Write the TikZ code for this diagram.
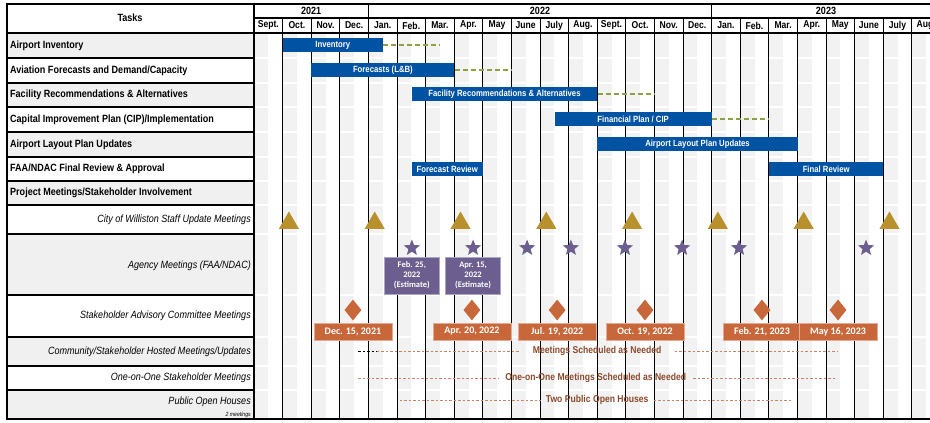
\documentclass[tikz,border=0pt]{standalone}
\usepackage{fontspec}
\setmainfont{Liberation Sans}
\newfontfamily\narrowfont[FakeStretch=0.86]{Liberation Sans}
\newfontfamily\calibrifont{Carlito}
\usetikzlibrary{shapes.geometric,positioning}

\definecolor{taskgray}{RGB}{240,240,240}
\definecolor{stripegray}{RGB}{242,242,242}
\definecolor{barblue}{RGB}{0,82,163}
\definecolor{slackgreen}{RGB}{140,162,62}
\definecolor{updategold}{RGB}{184,144,44}
\definecolor{agencypurple}{RGB}{108,94,142}
\definecolor{sacorange}{RGB}{200,104,58}
\definecolor{needbrown}{RGB}{140,74,44}
\definecolor{needdash}{RGB}{204,130,100}

\tikzset{
  taskcell/.style={draw=black, line width=1.1pt},
  headlabel/.style={font=\narrowfont\bfseries\fontsize{10.5}{12}\selectfont, inner sep=1pt},
  monthlabel/.style={font=\narrowfont\bfseries\fontsize{10}{12}\selectfont, inner sep=1pt},
  tasklabel/.style={anchor=west, font=\narrowfont\bfseries\fontsize{10.5}{12}\selectfont, inner sep=2pt},
  sublabel/.style={anchor=east, font=\narrowfont\itshape\fontsize{10.5}{12}\selectfont, inner sep=1pt},
  noteline/.style={anchor=east, font=\narrowfont\itshape\fontsize{6}{7}\selectfont, inner sep=1pt},
  stripe/.style={fill=stripegray},
  rowgap/.style={draw=white, line width=1.3pt},
  gridline/.style={draw=black, line width=1.3pt},
  monthline/.style={draw=black, line width=1pt},
  yearline/.style={draw=black, line width=1.6pt},
  bar/.style={fill=barblue, text=white, anchor=west, minimum height=14pt, inner sep=0pt,
    font=\narrowfont\bfseries\fontsize{9}{10}\selectfont},
  slack/.style={draw=slackgreen, line width=1.4pt, dash pattern=on 5pt off 3pt},
  update/.style={regular polygon, regular polygon sides=3, fill=updategold, minimum size=23pt, inner sep=0pt},
  agency/.style={star, star points=5, star point ratio=2.3, fill=agencypurple, minimum size=17pt, inner sep=0pt},
  estbox/.style={fill=agencypurple, draw=agencypurple!55!white, text=white, align=center,
    minimum width=55pt, minimum height=37pt, inner sep=1pt,
    font=\calibrifont\bfseries\fontsize{8.5}{10}\selectfont},
  sac/.style={diamond, fill=sacorange, minimum width=17pt, minimum height=21pt, inner sep=0pt},
  datebox/.style={fill=sacorange, draw=sacorange!55!white, text=white,
    minimum width=78pt, minimum height=17pt, inner sep=1pt,
    font=\calibrifont\bfseries\fontsize{10}{12}\selectfont},
  needtext/.style={text=needbrown, inner xsep=7pt, font=\narrowfont\bfseries\fontsize{10}{12}\selectfont},
  needline/.style={draw=needdash, line width=0.8pt, dash pattern=on 2.5pt off 2pt}
}

\begin{document}
\begin{tikzpicture}[x=1pt, y=-1pt]
  \clip (0,0) rectangle (930,423);
  \fill[white] (0,0) rectangle (930,423);

  % task column
  \draw[taskcell, fill=white] (7,4) rectangle (254,33);
  \foreach \top/\bot/\shade in {33/58/taskgray, 58/83/white, 83/107/taskgray, 107/132/white,
      132/157/taskgray, 157/181/white, 181/205/taskgray, 205/234/white, 234/295/taskgray,
      295/337/white, 337/366/taskgray, 366/390/white, 390/419/taskgray}
    \draw[taskcell, fill=\shade] (7,\top) rectangle (254,\bot);

  \node[headlabel] (tasks) at (130,18) {Tasks};
  \node[tasklabel] (inventory) at (8,45.5) {Airport Inventory};
  \node[tasklabel] (forecasts) at (8,70.5) {Aviation Forecasts and Demand/Capacity};
  \node[tasklabel] (facility) at (8,95) {Facility Recommendations \& Alternatives};
  \node[tasklabel] (cip) at (8,119.5) {Capital Improvement Plan (CIP)/Implementation};
  \node[tasklabel] (alp) at (8,144.5) {Airport Layout Plan Updates};
  \node[tasklabel] (approval) at (8,169) {FAA/NDAC Final Review \& Approval};
  \node[tasklabel] (project) at (8,193) {Project Meetings/Stakeholder Involvement};
  \node[sublabel] (city) at (252,219.5) {City of Williston Staff Update Meetings};
  \node[sublabel] (agency) at (252,265.5) {Agency Meetings (FAA/NDAC)};
  \node[sublabel] (advisory) at (252,316) {Stakeholder Advisory Committee Meetings};
  \node[sublabel] (community) at (252,351.5) {Community/Stakeholder Hosted Meetings/Updates};
  \node[sublabel] (oneonone) at (252,378) {One-on-One Stakeholder Meetings};
  \node[sublabel] (openhouse) at (252,401.5) {Public Open Houses};
  \node[noteline] (twomeet) at (252,414.5) {2 meetings};

  % chart, one unit per month from Sept. 2021
  \begin{scope}[shift={(254pt,0pt)}, x=28.6pt]
    \foreach \i in {0,...,23}
      \fill[stripe] (\i,33) rectangle (\i+0.5,419);
    \foreach \yy in {58,83,107,132,157,181,205,234,295,337,366,390}
      \draw[rowgap] (0,\yy) -- (24,\yy);

    \draw[gridline] (0,4) -- (24,4);
    \draw[gridline] (0,18) -- (24,18);
    \draw[gridline] (0,33) -- (24,33);
    \draw[gridline] (0,419) -- (24,419);
    \foreach \i in {1,...,23}
      \draw[monthline] (\i,18) -- (\i,419);
    \foreach \i in {0,4,16}
      \draw[yearline] (\i,4) -- (\i,419);

    \node[headlabel] (y2021) at (2,11) {2021};
    \node[headlabel] (y2022) at (10,11) {2022};
    \node[headlabel] (y2023) at (20,11) {2023};
    \foreach \mon [count=\i from 0] in {Sept.,Oct.,Nov.,Dec.,Jan.,Feb.,Mar.,Apr.,May,June,July,Aug.,
        Sept.,Oct.,Nov.,Dec.,Jan.,Feb.,Mar.,Apr.,May,June,July,Aug.}
      \node[monthlabel] (m\i) at (\i+0.5,25.5) {\mon};

    % task bars
    \node[bar, minimum width=100.1pt] (invbar) at (1,45) {Inventory};
    \coordinate (invend) at (6.5,45);
    \draw[slack] (invbar.east) -- (invend);
    \node[bar, minimum width=143pt] (fcbar) at (2,70) {Forecasts (L\&B)};
    \coordinate (fcend) at (9,70);
    \draw[slack] (fcbar.east) -- (fcend);
    \node[bar, minimum width=185.9pt] (facbar) at (5.5,94) {Facility Recommendations \& Alternatives};
    \coordinate (facend) at (14,94);
    \draw[slack] (facbar.east) -- (facend);
    \node[bar, minimum width=157.3pt] (cipbar) at (10.5,119) {Financial Plan / CIP};
    \coordinate (cipend) at (18,119);
    \draw[slack] (cipbar.east) -- (cipend);
    \node[bar, minimum width=200.2pt] (alpbar) at (12,144) {Airport Layout Plan Updates};
    \node[bar, minimum width=71.5pt] (fcreview) at (5.5,169) {Forecast Review};
    \node[bar, minimum width=114.4pt] (finreview) at (18,169) {Final Review};

    % meetings
    \foreach \m [count=\k] in {1,4,...,22}
      \node[update] (upd\k) at (\m+0.22,223) {};
    \foreach \sx [count=\k] in {5.52,7.66,9.55,11.08,12.97,14.97,16.96,21.4}
      \node[agency] (agy\k) at (\sx,248) {};
    \node[estbox] (est1) at (5.52,275.5) {Feb. 25,\\2022\\(Estimate)};
    \node[estbox] (est2) at (7.66,275.5) {Apr. 15,\\2022\\(Estimate)};
    \foreach \dx/\dt [count=\k] in {3.46/{Dec. 15, 2021}, 7.62/{Apr. 20, 2022}, 10.6/{Jul. 19, 2022},
        13.67/{Oct. 19, 2022}, 17.76/{Feb. 21, 2023}, 20.42/{May 16, 2023}}
    {
      \node[sac] (sac\k) at (\dx,310) {};
      \node[datebox, below=2pt of sac\k] (date\k) {\dt};
    }

    % as-needed meetings
    \node[needtext, inner xsep=13pt] (needed) at (12,351) {Meetings Scheduled as Needed};
    \coordinate (comstart) at (3.64,351);
    \coordinate (comblack) at (4.3,351);
    \coordinate (comend) at (20.4,351);
    \draw[needline, draw=black] (comstart) -- (comblack);
    \draw[needline] (comblack) -- (needed.west);
    \draw[needline] (needed.east) -- (comend);
    \node[needtext] (oneneeded) at (11.95,378) {One-on-One Meetings Scheduled as Needed};
    \coordinate (onestart) at (3.64,378);
    \coordinate (oneend) at (20.3,378);
    \draw[needline] (onestart) -- (oneneeded.west);
    \draw[needline] (oneneeded.east) -- (oneend);
    \node[needtext, inner xsep=5pt] (twohouses) at (12,400) {Two Public Open Houses};
    \coordinate (housestart) at (5.1,400);
    \coordinate (houseend) at (18.8,400);
    \draw[needline] (housestart) -- (twohouses.west);
    \draw[needline] (twohouses.east) -- (houseend);
  \end{scope}
\end{tikzpicture}
\end{document}
